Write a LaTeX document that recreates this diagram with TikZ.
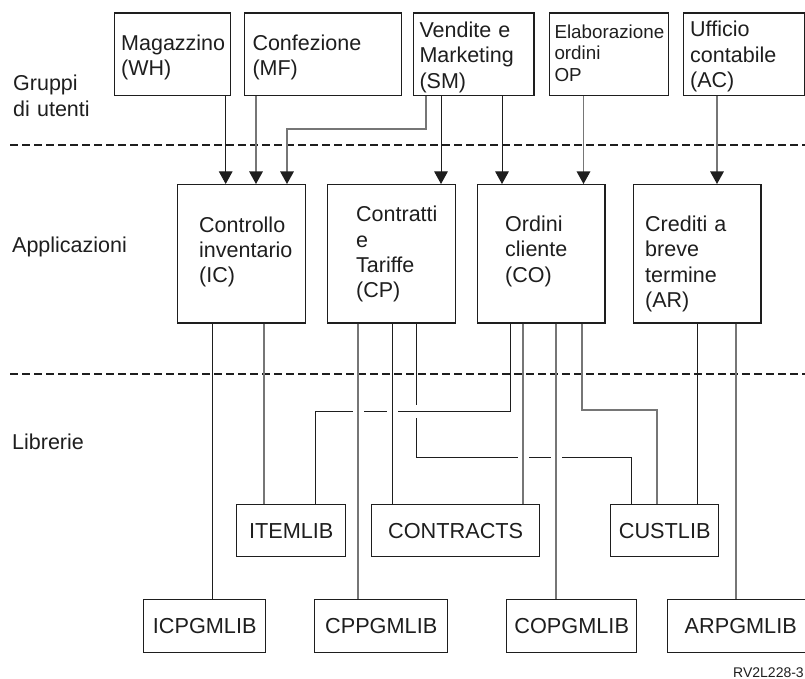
\documentclass[tikz,border=0pt]{standalone}
\usepackage{fontspec}
\setmainfont{Liberation Sans}
\usetikzlibrary{arrows.meta,calc}
\definecolor{ink}{HTML}{1E1E1E}
\definecolor{grayline}{HTML}{767676}
\begin{document}
\begin{tikzpicture}[x=1pt,y=-1pt,
  box/.style={draw=ink, line width=1.4pt, rectangle, inner sep=0pt, anchor=north west},
  lib/.style={box, font=\fontsize{21.7}{25}\selectfont, text=ink},
  txt/.style={anchor=base west, inner sep=0pt, text width=170pt, align=left, font=\fontsize{21.5}{25.3}\selectfont, text=ink},
  conn/.style={draw=ink, line width=1pt},
  gconn/.style={draw=grayline, line width=1.3pt},
  arr/.style={-{Triangle[width=13.5pt,length=12.5pt,color=ink]}},
  sep/.style={draw=ink, line width=1.8pt, dash pattern=on 7.5pt off 4.5pt},
  gapfill/.style={fill=white, draw=none}
]
\useasboundingbox (0,0) rectangle (805,679);

% separators
\draw[sep] (10,145) -- (805,145);
\draw[sep] (10,374) -- (805,374);

% left labels
\node[txt] (grp) at (13,91) {Gruppi\\di utenti};
\node[txt] (appl) at (12,252) {Applicazioni};
\node[txt] (libr) at (12,449) {Librerie};

% user group boxes
\node[box, minimum width=116pt, minimum height=82.7pt] (wh) at (114,12.3) {};
\node[box, minimum width=157pt, minimum height=82.7pt] (mf) at (244,12.3) {};
\node[box, minimum width=120.6pt, minimum height=82.7pt] (sm) at (412.7,12.3) {};
\node[box, minimum width=119pt, minimum height=82.7pt] (op) at (549,12.3) {};
\node[box, minimum width=121pt, minimum height=82.7pt] (ac) at (683,12.3) {};
\node[txt] (whT) at (121,50.7) {Magazzino\\(WH)};
\node[txt] (mfT) at (252.3,50.7) {Confezione\\(MF)};
\node[txt] (smT) at (419.3,37.5) {Vendite e\\Marketing\\(SM)};
\node[txt, font=\fontsize{18.8}{21.5}\selectfont] (opT) at (554.3,38.3) {Elaborazione\\ordini\\OP};
\node[txt] (acT) at (690,37) {Ufficio\\contabile\\(AC)};

% application boxes
\node[box, minimum width=128pt, minimum height=138.3pt] (ic) at (177,184) {};
\node[box, minimum width=128pt, minimum height=138.3pt] (cp) at (327,184) {};
\node[box, minimum width=127.3pt, minimum height=138.3pt] (co) at (477,184) {};
\node[box, minimum width=127.3pt, minimum height=138.3pt] (ar) at (633,184) {};
\node[txt] (icT) at (199,232.3) {Controllo\\inventario\\(IC)};
\node[txt] (cpT) at (356,221.7) {Contratti\\e\\Tariffe\\(CP)};
\node[txt] (coT) at (505,231.7) {Ordini\\cliente\\(CO)};
\node[txt] (arT) at (645,231.7) {Crediti a\\breve\\termine\\(AR)};

% library boxes
\node[lib, minimum width=109pt, minimum height=52pt] (itemlib) at (236,504) {ITEMLIB};
\node[lib, minimum width=168pt, minimum height=52pt] (contracts) at (371,504) {CONTRACTS};
\node[lib, minimum width=108pt, minimum height=52pt] (custlib) at (610,504) {CUSTLIB};
\node[lib, minimum width=122pt, minimum height=53pt] (icpgmlib) at (143,599) {ICPGMLIB};
\node[lib, minimum width=133pt, minimum height=53pt] (cppgmlib) at (314,599) {CPPGMLIB};
\node[lib, minimum width=130pt, minimum height=53pt] (copgmlib) at (506,599) {COPGMLIB};
\node[lib, minimum width=146pt, minimum height=53pt, text width=139pt, align=center] (arpgmlib) at (667,599) {ARPGMLIB};

\node[anchor=base west, inner sep=0pt, font=\fontsize{14}{16}\selectfont, text=ink] (code) at (733,677) {RV2L228-3};

% x positions of connectors
\coordinate (xa) at (225.7,0);
\coordinate (xb) at (256,0);
\coordinate (xc) at (426,0);
\coordinate (xd) at (287,0);
\coordinate (xe) at (441,0);
\coordinate (xf) at (502,0);
\coordinate (xg) at (583.5,0);
\coordinate (xh) at (717,0);
\coordinate (x212) at (212,0);
\coordinate (x264) at (264,0);
\coordinate (x315) at (315,0);
\coordinate (x358) at (358,0);
\coordinate (x392) at (392,0);
\coordinate (x416) at (416,0);
\coordinate (x510) at (510,0);
\coordinate (x523) at (523,0);
\coordinate (x556) at (556,0);
\coordinate (x582) at (582,0);
\coordinate (x631) at (631,0);
\coordinate (x657) at (657,0);
\coordinate (x697) at (697,0);
\coordinate (x736) at (736,0);
\coordinate (hsm) at (0,129);
\coordinate (h1) at (0,411);
\coordinate (h1b) at (0,410);
\coordinate (h2) at (0,457);

% user groups -> applications
\draw[conn,arr] (wh.south -| xa) -- (ic.north -| xa);
\draw[gconn,arr] (mf.south -| xb) -- (ic.north -| xb);
\draw[gconn,arr] (sm.south -| xc) -- (hsm -| xc) -| (ic.north -| xd);
\draw[conn,arr] (sm.south -| xe) -- (cp.north -| xe);
\draw[conn,arr] (sm.south -| xf) -- (co.north -| xf);
\draw[gconn,arr] (op.south -| xg) -- (co.north -| xg);
\draw[gconn,arr] (ac.south -| xh) -- (ar.north -| xh);

% applications -> libraries (with line jumps)
\draw[conn] (cp.south -| x416) -- (h2 -| x416) -| (custlib.north -| x631);
\fill[gapfill] (412,404.5) rectangle (420,417.5);
\draw[conn] (co.south -| x510) -- (h1 -| x510) -| (itemlib.north -| x315);
\fill[gapfill] (352.5,407) rectangle (363.5,415);
\fill[gapfill] (386.5,407) rectangle (397.5,415);
\fill[gapfill] (517.5,453) rectangle (528.5,461);
\fill[gapfill] (550.5,453) rectangle (561.5,461);
\draw[gconn] (cp.south -| x358) -- (cppgmlib.north -| x358);
\draw[conn] (cp.south -| x392) -- (contracts.north -| x392);
\draw[gconn] (co.south -| x523) -- (contracts.north -| x523);
\draw[gconn] (co.south -| x556) -- (copgmlib.north -| x556);
\draw[conn] (ic.south -| x212) -- (icpgmlib.north -| x212);
\draw[gconn] (ic.south -| x264) -- (itemlib.north -| x264);
\draw[gconn] (co.south -| x582) -- (h1b -| x582) -| (custlib.north -| x657);
\draw[conn] (ar.south -| x697) -- (custlib.north -| x697);
\draw[gconn] (ar.south -| x736) -- (arpgmlib.north -| x736);
\end{tikzpicture}
\end{document}
